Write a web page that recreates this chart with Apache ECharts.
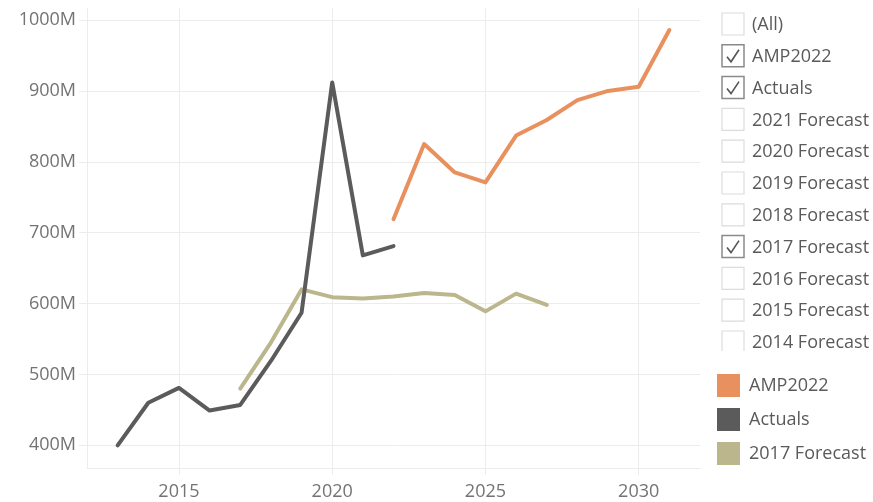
<!DOCTYPE html>
<html>
<head>
<meta charset="utf-8">
<script src="https://cdn.jsdelivr.net/npm/echarts@6/dist/echarts.min.js"></script>
<style>
  html, body { margin: 0; padding: 0; background: #fff; }
  #chart { width: 873px; height: 502px; }
</style>
</head>
<body>
<div id="chart"></div>
<script>
// values in millions
const actualYears = [2013, 2014, 2015, 2016, 2017, 2018, 2019, 2020, 2021, 2022]
const actualValues = [400, 460, 481, 449, 457, 519, 587, 912, 668, 681]

const fc2017Years = [2017, 2018, 2019, 2020, 2021, 2022, 2023, 2024, 2025, 2026, 2027]
const fc2017Values = [480, 545, 620, 609, 607, 610, 615, 612, 589, 614, 598]

const ampYears = [2022, 2023, 2024, 2025, 2026, 2027, 2028, 2029, 2030, 2031]
const ampValues = [719, 825, 785, 771, 837, 859, 887, 900, 906, 986]

const xTicks = [2015, 2020, 2025, 2030]
const yTicks = [400, 500, 600, 700, 800, 900, 1000]

const filterNames = ['(All)', 'AMP2022', 'Actuals', '2021 Forecast', '2020 Forecast', '2019 Forecast',
  '2018 Forecast', '2017 Forecast', '2016 Forecast', '2015 Forecast', '2014 Forecast']
const filterChecked = [false, true, true, false, false, false, false, true, false, false, false]

const FONT = "'Open Sans', sans-serif"
const gridColor = '#ececec'
const colors = { amp: '#e8915e', actual: '#5b5b5b', fc: '#bcb68c' }

const pairs = (xs, ys) => xs.map((x, i) => [x, ys[i]])

// filter card (checkbox list) on the right
const buildFilter = () => {
  const els = []
  const boxX = 722, top0 = 13, pitch = 31.8, size = 22, clipY = 351
  filterNames.forEach((name, i) => {
    const top = top0 + i * pitch
    const checked = filterChecked[i]
    const stroke = checked ? '#8a8a8a' : '#dcdcdc'
    if (top + size > clipY) {
      els.push({
        type: 'polyline',
        shape: { points: [[boxX, clipY], [boxX, top], [boxX + size, top], [boxX + size, clipY]] },
        style: { stroke, lineWidth: 1.2, fill: null }
      })
    } else {
      els.push({
        type: 'rect',
        shape: { x: boxX, y: top, width: size, height: size },
        style: { stroke, lineWidth: checked ? 1.5 : 1.2, fill: '#fff' }
      })
    }
    if (checked) {
      els.push({
        type: 'polyline',
        shape: { points: [[boxX + 5, top + 12], [boxX + 9, top + 17], [boxX + 17, top + 5]] },
        style: { stroke: '#555', lineWidth: 1.6, fill: null }
      })
    }
    els.push({
      type: 'text',
      x: 752, y: top + size / 2 + 1,
      style: { text: name, font: `18px ${FONT}`, fill: '#5a5a5a', verticalAlign: 'middle', align: 'left' }
    })
  })
  return els
}

const lineSeries = (name, data, color, z) => ({
  name, type: 'line', data, z,
  showSymbol: false, symbol: 'none',
  lineStyle: { color, width: 4, cap: 'round', join: 'round' },
  itemStyle: { color },
  emphasis: { disabled: true },
  animation: false
})

const chart = echarts.init(document.getElementById('chart'), null, { renderer: 'canvas' })
chart.setOption({
  animation: false,
  textStyle: { fontFamily: FONT },
  grid: { left: 87, right: 173, top: 8, bottom: 34, containLabel: false },
  legend: {
    orient: 'vertical', left: 717, top: 374, padding: 0,
    itemWidth: 23, itemHeight: 23, itemGap: 11, icon: 'rect',
    selectedMode: false,
    itemStyle: { borderWidth: 0 },
    textStyle: { fontSize: 18, color: '#5a5a5a', fontFamily: FONT, padding: [0, 0, 0, 4] },
    data: ['AMP2022', 'Actuals', '2017 Forecast']
  },
  xAxis: {
    type: 'value', min: 2012, max: 2032,
    axisLine: { show: true, lineStyle: { color: gridColor, width: 1 } },
    axisTick: { show: true, length: 7, customValues: xTicks, lineStyle: { color: gridColor } },
    splitLine: { show: true, lineStyle: { color: gridColor, width: 1 } },
    axisLabel: { customValues: xTicks, color: '#737373', fontSize: 18, margin: 15, fontFamily: FONT,
      formatter: (v) => String(v) }
  },
  yAxis: {
    type: 'value', min: 368, max: 1017,
    axisLine: { show: true, lineStyle: { color: gridColor, width: 1 } },
    axisTick: { show: true, length: 8, customValues: yTicks, lineStyle: { color: gridColor } },
    splitLine: { show: true, lineStyle: { color: gridColor, width: 1 } },
    axisLabel: { customValues: yTicks, color: '#737373', fontSize: 18, margin: 11, fontFamily: FONT,
      formatter: (v) => v + 'M' }
  },
  graphic: buildFilter(),
  series: [
    lineSeries('2017 Forecast', pairs(fc2017Years, fc2017Values), colors.fc, 2),
    lineSeries('Actuals', pairs(actualYears, actualValues), colors.actual, 3),
    lineSeries('AMP2022', pairs(ampYears, ampValues), colors.amp, 4)
  ]
})
</script>
</body>
</html>
